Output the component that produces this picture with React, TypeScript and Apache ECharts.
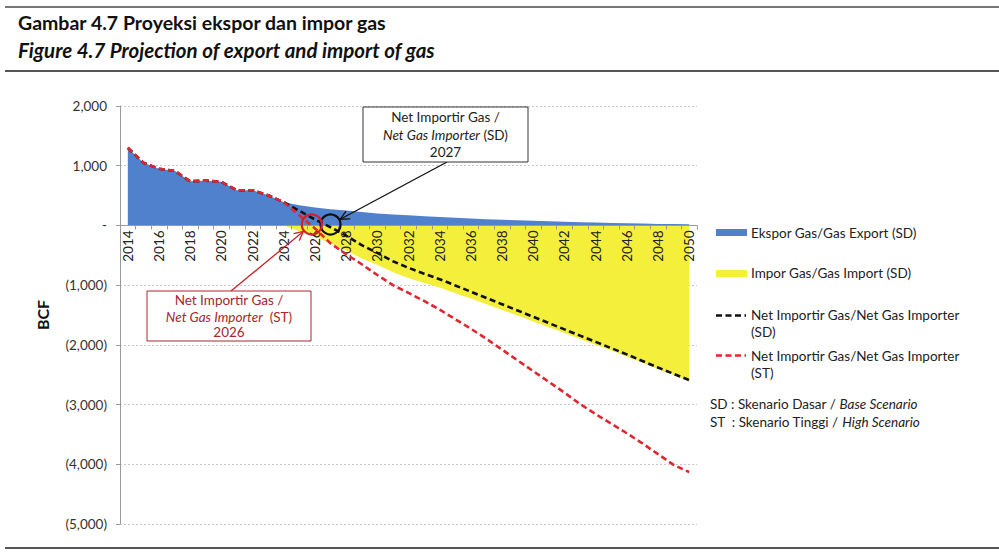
import React, { useEffect, useRef } from "react";
import * as echarts from "echarts";

const years = [
  "2014", "2015", "2016", "2017", "2018", "2019", "2020", "2021", "2022", "2023",
  "2024", "2025", "2026", "2027", "2028", "2029", "2030", "2031", "2032", "2033",
  "2034", "2035", "2036", "2037", "2038", "2039", "2040", "2041", "2042", "2043",
  "2044", "2045", "2046", "2047", "2048", "2049", "2050",
];

const exportSD = [
  1300, 1050, 950, 915, 740, 750, 730, 590, 590, 505,
  390, 340, 300, 270, 250, 225, 200, 185, 170, 155,
  140, 128, 115, 105, 95, 86, 78, 70, 62, 55,
  48, 42, 36, 31, 26, 22, 18,
];

const importSD = [
  null, null, null, null, null, null, null, null, null, null,
  0, -95, -190, -300, -420, -555, -660, -785, -880, -965,
  -1040, -1135, -1225, -1320, -1415, -1510, -1610, -1705, -1800, -1900,
  -2000, -2095, -2195, -2300, -2405, -2505, -2610,
];

const netSD = [
  1300, 1050, 950, 915, 740, 750, 730, 590, 590, 505,
  390, 245, 100, -30, -170, -330, -460, -600, -710, -810,
  -900, -1005, -1110, -1215, -1320, -1425, -1530, -1635, -1740, -1845,
  -1950, -2055, -2160, -2270, -2380, -2485, -2590,
];

const netST = [
  1300, 1050, 950, 915, 740, 750, 730, 590, 590, 505,
  390, 170, -50, -300, -480, -650, -830, -1000, -1130, -1265,
  -1410, -1570, -1730, -1900, -2080, -2260, -2440, -2620, -2800, -2990,
  -3160, -3320, -3480, -3650, -3830, -4010, -4130,
];

const yMin = -5000;
const yMax = 2000;
const yStep = 1000;

const legendLabels = [
  "Ekspor Gas/Gas Export (SD)",
  "Impor Gas/Gas Import (SD)",
  "Net Importir Gas/Net Gas Importer",
  "Net Importir Gas/Net Gas Importer",
];

const FONT = "Lato, 'Open Sans', sans-serif";
const BLUE = "#4f81cc";
const YELLOW = "#f3ef3b";
const RED = "#e0262e";
const DARKRED = "#a8262c";
const BLACK = "#111111";

const GRID = { left: 120, right: 302, top: 106, bottom: 35 };
const CHART_H = 559;

function fmtY(v: number) {
  if (v === 0) return "-";
  const s = Math.abs(v).toLocaleString("en-US");
  return v < 0 ? `(${s})` : s;
}

function arrowEls(from: number[], to: number[], color: string, width: number) {
  const dx = to[0] - from[0];
  const dy = to[1] - from[1];
  const len = Math.sqrt(dx * dx + dy * dy);
  const ux = dx / len;
  const uy = dy / len;
  const L = 9;
  const W = 4.5;
  const bx = to[0] - ux * L;
  const by = to[1] - uy * L;
  const nx = -uy;
  const ny = ux;
  return [
    {
      type: "line",
      shape: { x1: from[0], y1: from[1], x2: to[0], y2: to[1] },
      style: { stroke: color, lineWidth: width },
      z: 100,
    },
    {
      type: "polyline",
      shape: {
        points: [
          [bx + nx * W, by + ny * W],
          [to[0], to[1]],
          [bx - nx * W, by - ny * W],
        ],
      },
      style: { stroke: color, lineWidth: width, fill: null },
      z: 100,
    },
  ];
}

export default function App() {
  const ref = useRef<HTMLDivElement>(null);

  useEffect(() => {
    const chart = echarts.init(ref.current!, null, { renderer: "svg" });
    const plotH = CHART_H - GRID.top - GRID.bottom;
    const zeroOffset = -(plotH * (0 - yMin)) / (yMax - yMin);
    const option: any = {
      animation: false,
      textStyle: { fontFamily: FONT },
      grid: GRID,
      xAxis: {
        type: "category",
        data: years,
        boundaryGap: true,
        position: "bottom",
        offset: zeroOffset,
        axisLine: { onZero: false, lineStyle: { color: "#9a9a9a", width: 1 } },
        axisTick: { show: true, interval: 0, length: 4, lineStyle: { color: "#9a9a9a" } },
        axisLabel: {
          rotate: 90,
          interval: 1,
          fontSize: 13.5,
          color: "#222",
          fontFamily: FONT,
          margin: 5,
        },
        splitLine: { show: false },
        z: 2,
      },
      yAxis: {
        type: "value",
        min: yMin,
        max: yMax,
        interval: yStep,
        axisLine: { show: true, lineStyle: { color: "#9a9a9a", width: 1 } },
        axisTick: { show: true, length: 4, lineStyle: { color: "#9a9a9a" } },
        axisLabel: {
          formatter: fmtY,
          fontSize: 13.5,
          color: "#333",
          fontFamily: FONT,
          margin: 13,
        },
        splitLine: { show: true, lineStyle: { color: "#c8c8c8", type: [2, 2], width: 1 } },
      },
      series: [
        {
          name: "Ekspor Gas/Gas Export (SD)",
          type: "line",
          data: exportSD,
          symbol: "none",
          lineStyle: { width: 0 },
          areaStyle: { color: BLUE, opacity: 1 },
          z: 1,
        },
        {
          name: "Impor Gas/Gas Import (SD)",
          type: "line",
          data: importSD,
          symbol: "none",
          lineStyle: { width: 0 },
          areaStyle: { color: YELLOW, opacity: 1 },
          z: 1,
        },
        {
          name: "Net Importir Gas/Net Gas Importer (SD)",
          type: "line",
          data: netSD,
          symbol: "none",
          lineStyle: { color: BLACK, width: 2.6, type: [6, 3.5] },
          z: 3,
        },
        {
          name: "Net Importir Gas/Net Gas Importer (ST)",
          type: "line",
          data: netST,
          symbol: "none",
          lineStyle: { color: RED, width: 2.6, type: [6, 3.5] },
          z: 4,
        },
      ],
    };
    chart.setOption(option);

    const p = (i: number) => chart.convertToPixel({ gridIndex: 0 }, [i, 0]) as number[];
    const p11 = p(11);
    const p12 = p(12);
    const p13 = p(13);
    const R = 10;
    const blackC = [p13[0], p13[1] - 1];
    const redC = [p11[0] + 0.8 * (p12[0] - p11[0]), p11[1] - 1];

    const blackFrom = [447, 162];
    const bdx = blackFrom[0] - blackC[0];
    const bdy = blackFrom[1] - blackC[1];
    const bl = Math.sqrt(bdx * bdx + bdy * bdy);
    const blackTip = [blackC[0] + (bdx / bl) * (R + 1), blackC[1] + (bdy / bl) * (R + 1)];

    const redFrom = [231, 291];
    const rdx = redFrom[0] - redC[0];
    const rdy = redFrom[1] - redC[1];
    const rl = Math.sqrt(rdx * rdx + rdy * rdy);
    const redTip = [redC[0] + (rdx / rl) * (R + 1), redC[1] + (rdy / rl) * (R + 1)];

    const txt = (x: number, y: number, text: string, extra: any = {}) => ({
      type: "text",
      x,
      y,
      z: 110,
      style: {
        text,
        fontFamily: FONT,
        fontSize: 13.5,
        fill: "#222",
        align: "left",
        verticalAlign: "middle",
        ...extra,
      },
    });

    const italicRich = (fill: string) => ({
      i: { fontStyle: "italic", fontFamily: FONT, fontSize: 13.5, fill },
    });

    const graphic: any[] = [
      // frame lines
      { type: "line", shape: { x1: 5, y1: 7, x2: 999, y2: 7 }, style: { stroke: "#777", lineWidth: 2 } },
      { type: "line", shape: { x1: 5, y1: 71, x2: 999, y2: 71 }, style: { stroke: "#555", lineWidth: 2 } },
      { type: "line", shape: { x1: 5, y1: 548, x2: 999, y2: 548 }, style: { stroke: "#555", lineWidth: 2 } },
      // titles
      txt(18, 22, "Gambar 4.7 Proyeksi ekspor dan impor gas", {
        fontSize: 19.5,
        fontWeight: "bold",
        fill: "#111",
      }),
      txt(18, 50, "Figure 4.7 Projection of export and import of gas", {
        fontSize: 20.5,
        fontWeight: "bold",
        fontStyle: "italic",
        fill: "#111",
      }),
      // y axis name
      {
        type: "text",
        x: 42,
        y: 315,
        rotation: Math.PI / 2,
        style: {
          text: "BCF",
          fontFamily: FONT,
          fontSize: 16,
          fontWeight: "bold",
          fill: "#111",
          align: "center",
          verticalAlign: "middle",
        },
      },
      // black annotation box
      {
        type: "rect",
        shape: { x: 363, y: 107, width: 165, height: 55 },
        style: { fill: "#fff", stroke: "#333", lineWidth: 1 },
        z: 105,
      },
      txt(445.5, 117, "Net Importir Gas /", { align: "center" }),
      txt(445.5, 135, "{i|Net Gas Importer} (SD)", { align: "center", rich: italicRich("#222") }),
      txt(445.5, 152, "2027", { align: "center" }),
      ...arrowEls(blackFrom, blackTip, "#111", 1.3),
      {
        type: "circle",
        shape: { cx: blackC[0], cy: blackC[1], r: R },
        style: { fill: null, stroke: "#111", lineWidth: 2.2 },
        z: 100,
      },
      // red annotation box
      {
        type: "rect",
        shape: { x: 147, y: 291, width: 164, height: 50 },
        style: { fill: "#fff", stroke: DARKRED, lineWidth: 1 },
        z: 105,
      },
      txt(229, 300, "Net Importir Gas /", { align: "center", fill: DARKRED }),
      txt(229, 317, "{i|Net Gas Importer}  (ST)", {
        align: "center",
        fill: DARKRED,
        rich: italicRich(DARKRED),
      }),
      txt(229, 332, "2026", { align: "center", fill: DARKRED }),
      ...arrowEls(redFrom, redTip, "#c8232c", 1.3),
      {
        type: "circle",
        shape: { cx: redC[0], cy: redC[1], r: R },
        style: { fill: null, stroke: "#d0222c", lineWidth: 2.2 },
        z: 100,
      },
      // legend
      { type: "rect", shape: { x: 716, y: 229, width: 31, height: 7 }, style: { fill: BLUE } },
      txt(751, 233, legendLabels[0]),
      { type: "rect", shape: { x: 716, y: 270, width: 31, height: 7 }, style: { fill: YELLOW } },
      txt(751, 273, legendLabels[1]),
      {
        type: "line",
        shape: { x1: 716, y1: 315.5, x2: 746, y2: 315.5 },
        style: { stroke: BLACK, lineWidth: 2.6, lineDash: [6, 3.5] },
      },
      txt(751, 315, legendLabels[2]),
      txt(751, 332, "(SD)"),
      {
        type: "line",
        shape: { x1: 716, y1: 355.5, x2: 746, y2: 355.5 },
        style: { stroke: RED, lineWidth: 2.6, lineDash: [6, 3.5] },
      },
      txt(751, 356, legendLabels[3]),
      txt(751, 373, "(ST)"),
      txt(710, 404, "SD : Skenario Dasar / {i|Base Scenario}", { rich: italicRich("#222") }),
      txt(710, 422, "ST  : Skenario Tinggi / {i|High Scenario}", { rich: italicRich("#222") }),
    ];

    chart.setOption({ graphic });

    return () => chart.dispose();
  }, []);

  return (
    <div
      ref={ref}
      style={{ position: "absolute", left: 0, top: 0, width: 999, height: CHART_H, background: "#fff" }}
    />
  );
}
